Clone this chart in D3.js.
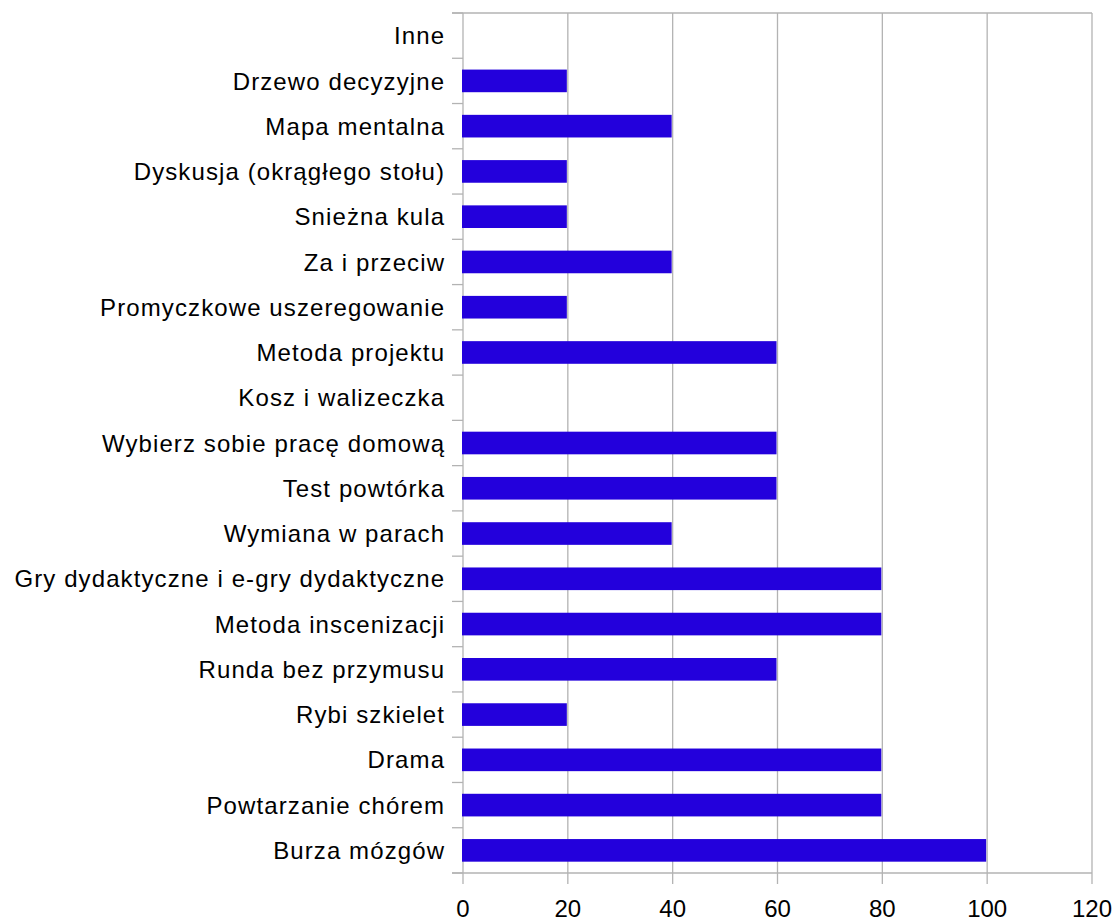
<!DOCTYPE html>
<html><head><meta charset="utf-8">
<script src="https://cdn.jsdelivr.net/npm/d3@7"></script>
<style>body{margin:0;background:#fff;} text{font-family:"Liberation Sans",Arial,sans-serif;}</style>
</head><body><svg id="c" width="1115" height="918"></svg>
<script>
const categories = ["Inne","Drzewo decyzyjne","Mapa mentalna","Dyskusja (okrągłego stołu)","Snieżna kula","Za i przeciw","Promyczkowe uszeregowanie","Metoda projektu","Kosz i walizeczka","Wybierz sobie pracę domową","Test powtórka","Wymiana w parach","Gry dydaktyczne i e-gry dydaktyczne","Metoda inscenizacji","Runda bez przymusu","Rybi szkielet","Drama","Powtarzanie chórem","Burza mózgów"];
const values = [0,20,40,20,20,40,20,60,0,60,60,40,80,80,60,20,80,80,100];
const xTicks = [0,20,40,60,80,100,120];

const svg = d3.select("#c");
const L=463, R=1092, T=13, B=873;
const x = d3.scaleLinear().domain([0,120]).range([L,R]);
const y = d3.scaleBand().domain(categories).range([T,B]).paddingInner(0.5).paddingOuter(0.25);
const grid="#b3b3b3";
svg.append("g").selectAll("line").data(xTicks).join("line")
  .attr("x1",d=>x(d)).attr("x2",d=>x(d)).attr("y1",T).attr("y2",B+11)
  .attr("stroke",grid).attr("stroke-width",1.3);
svg.append("line").attr("x1",L-11).attr("x2",R).attr("y1",T).attr("y2",T).attr("stroke",grid).attr("stroke-width",1.3);
svg.append("line").attr("x1",L-11).attr("x2",R).attr("y1",B).attr("y2",B).attr("stroke",grid).attr("stroke-width",1.3);
const step = (B-T)/categories.length;
svg.append("g").selectAll("line").data(d3.range(categories.length+1)).join("line")
  .attr("x1",L-11).attr("x2",L).attr("y1",i=>T+i*step).attr("y2",i=>T+i*step)
  .attr("stroke",grid).attr("stroke-width",1.3);
svg.append("g").selectAll("rect").data(categories).join("rect")
  .attr("x",x(0)-1).attr("y",d=>y(d)).attr("height",y.bandwidth())
  .attr("width",(d,i)=>values[i]>0 ? x(values[i])-x(0) : 0)
  .attr("fill","#2300dc");
const ls=1.1;
svg.append("g").selectAll("text").data(categories).join("text")
  .attr("x",L-19+ls).attr("y",d=>y(d)+y.bandwidth()/2).attr("dy","0.36em")
  .attr("text-anchor","end").attr("font-size",24).attr("letter-spacing",ls+"px").attr("fill","#000").text(d=>d);
svg.append("g").selectAll("text").data(xTicks).join("text")
  .attr("x",d=>x(d)).attr("y",916.5).attr("text-anchor","middle")
  .attr("font-size",24).attr("fill","#000").text(d=>d);
</script></body></html>
